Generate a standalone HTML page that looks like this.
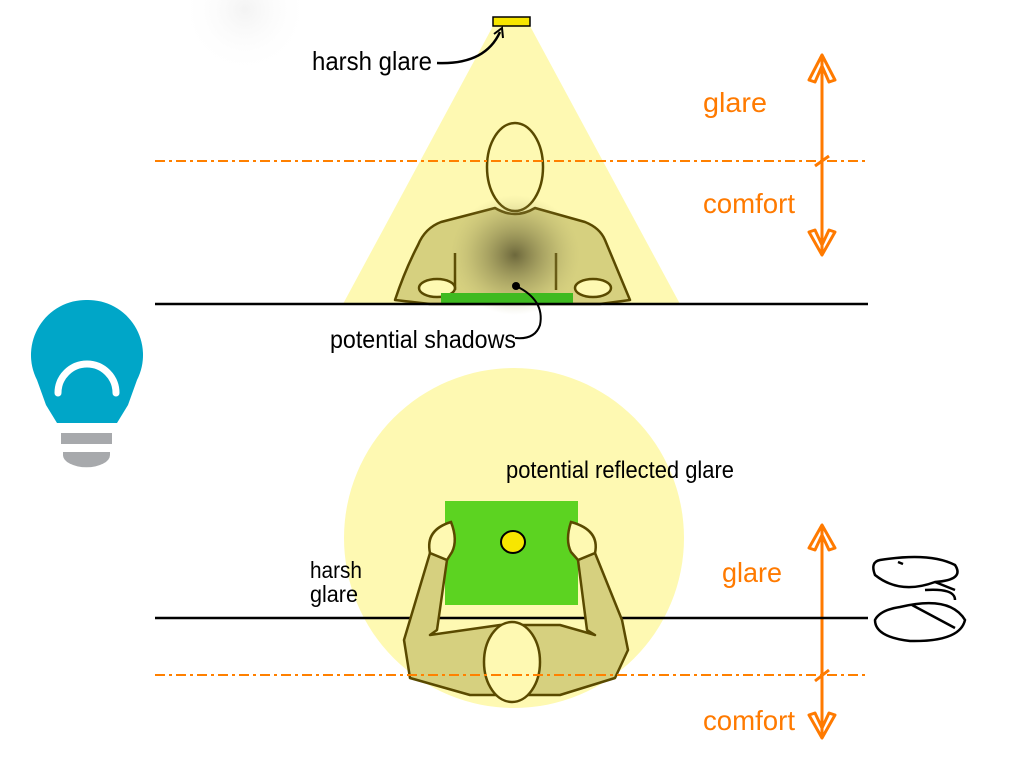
<!DOCTYPE html>
<html><head><meta charset="utf-8"><style>
html,body{margin:0;padding:0;background:#fff;width:1023px;height:767px;overflow:hidden}
svg{display:block}
text{font-family:"Liberation Sans",sans-serif}
</style></head><body>
<svg width="1023" height="767" viewBox="0 0 1023 767">
<defs>
<radialGradient id="sh" cx="0.5" cy="0.5" r="0.5">
<stop offset="0" stop-color="#5a5530" stop-opacity="0.85"/>
<stop offset="0.6" stop-color="#8a8550" stop-opacity="0.35"/>
<stop offset="1" stop-color="#b5b070" stop-opacity="0"/>
</radialGradient>
<radialGradient id="g0" cx="0.5" cy="0.5" r="0.5">
<stop offset="0" stop-color="#e8e8e8" stop-opacity="0.5"/>
<stop offset="1" stop-color="#fff" stop-opacity="0"/>
</radialGradient>
</defs>
<circle cx="245" cy="10" r="65" fill="url(#g0)"/>
<!-- top cone -->
<polygon points="493,26 530,26 680,304 343,304" fill="#fef9b2"/>
<rect x="493" y="17" width="37" height="9" fill="#f7e600" stroke="#000" stroke-width="1.5"/>
<!-- top person -->
<path d="M441,222 L495,208 Q515,220 535,208 L585,222 Q600,228 605,240 L630,300 L600,304 L430,304 L395,300 Q405,270 418,245 Q425,228 441,222Z" fill="#d6d07f" stroke="#5a4a00" stroke-width="2.5" stroke-linejoin="round"/>
<ellipse cx="515" cy="167" rx="28" ry="44" fill="#fef9b2" stroke="#5a4a00" stroke-width="2.5"/>
<path d="M455,253 L455,290 M556,253 L556,290" stroke="#5a4a00" stroke-width="2.5"/>
<ellipse cx="437" cy="288" rx="18" ry="9" fill="#fef9b2" stroke="#5a4a00" stroke-width="2.5"/>
<ellipse cx="593" cy="288" rx="18" ry="9" fill="#fef9b2" stroke="#5a4a00" stroke-width="2.5"/>
<ellipse cx="515" cy="255" rx="65" ry="60" fill="url(#sh)"/>
<rect x="441" y="293" width="132" height="11" fill="#3fba20"/>
<circle cx="516" cy="286" r="4" fill="#000"/>
<path d="M516,286 Q545,300 540,325 Q535,340 515,338" fill="none" stroke="#000" stroke-width="2"/>
<line x1="155" y1="304" x2="868" y2="304" stroke="#000" stroke-width="2.5"/>
<line x1="155" y1="161" x2="868" y2="161" stroke="#ff8000" stroke-width="2" stroke-dasharray="10,4,3,4"/>
<!-- labels top -->
<text x="312" y="70" font-size="26" fill="#000" textLength="120" lengthAdjust="spacingAndGlyphs">harsh glare</text>
<path d="M437,63 Q485,65 500,32" fill="none" stroke="#000" stroke-width="2.5"/>
<path d="M494,34 L502,28 L503,38" fill="none" stroke="#000" stroke-width="2"/>
<text x="330" y="348" font-size="25" fill="#000" textLength="186" lengthAdjust="spacingAndGlyphs">potential shadows</text>
<!-- orange arrows -->
<g stroke="#ff7a00" stroke-width="3" fill="none" stroke-linejoin="round">
<line x1="822" y1="55" x2="822" y2="255"/>
<path d="M822,55 L809,80 L815,82 L822,66 L829,82 L835,80Z"/>
<path d="M822,255 L809,232 L815,230 L822,245 L829,230 L835,232Z"/>
<line x1="815" y1="166" x2="829" y2="156"/>
<line x1="822" y1="525" x2="822" y2="738"/>
<path d="M822,525 L809,548 L815,550 L822,535 L829,550 L835,548Z"/>
<path d="M822,738 L809,715 L815,713 L822,728 L829,713 L835,715Z"/>
<line x1="815" y1="681" x2="829" y2="670"/>
</g>
<text x="703" y="112" font-size="28" fill="#ff7a00" textLength="64" lengthAdjust="spacingAndGlyphs">glare</text>
<text x="703" y="213" font-size="28" fill="#ff7a00" textLength="92" lengthAdjust="spacingAndGlyphs">comfort</text>
<text x="722" y="582" font-size="28" fill="#ff7a00" textLength="60" lengthAdjust="spacingAndGlyphs">glare</text>
<text x="703" y="730" font-size="28" fill="#ff7a00" textLength="92" lengthAdjust="spacingAndGlyphs">comfort</text>
<!-- bulb -->
<path d="M87,300 A55,55 0 0 1 137,380 L128,405 L117,423 L57,423 L46,405 L37,380 A55,55 0 0 1 87,300Z" fill="#00a6c8"/>
<path d="M58,393 A29,29 0 0 1 116,393" fill="none" stroke="#fff" stroke-width="7" stroke-linecap="round"/>
<rect x="61" y="433" width="51" height="11" fill="#a7a9ac"/>
<path d="M63,452 L110,452 L110,455 A23,12 0 0 1 63,455Z" fill="#a7a9ac"/>
<!-- bottom scene -->
<circle cx="514" cy="538" r="170" fill="#fef9b2"/>
<rect x="445" y="501" width="133" height="104" fill="#5cd321"/>
<ellipse cx="513" cy="542" rx="12" ry="11" fill="#f7e600" stroke="#000" stroke-width="2"/>
<line x1="155" y1="618" x2="868" y2="618" stroke="#000" stroke-width="2.5"/>
<path d="M430,553 L447,560 L437,630 L430,635 L500,625 L560,625 L595,635 L587,630 L578,560 L595,553 L622,620 L628,650 L615,678 L560,695 L470,695 L410,678 L404,640 Z" fill="#d6d07f" stroke="#5a4a00" stroke-width="2.5" stroke-linejoin="round"/>
<path d="M430,553 Q425,530 451,522 Q458,540 452,552 L447,560Z" fill="#fef9b2" stroke="#5a4a00" stroke-width="2.5"/>
<path d="M595,553 Q600,530 571,522 Q565,540 571,552 L578,560Z" fill="#fef9b2" stroke="#5a4a00" stroke-width="2.5"/>
<ellipse cx="512" cy="662" rx="28" ry="40" fill="#fef9b2" stroke="#5a4a00" stroke-width="2.5"/>
<line x1="155" y1="675" x2="868" y2="675" stroke="#ff8000" stroke-width="2" stroke-dasharray="10,4,3,4"/>
<text x="506" y="478" font-size="24" fill="#000" textLength="228" lengthAdjust="spacingAndGlyphs">potential reflected glare</text>
<text x="310" y="578" font-size="23" fill="#000" textLength="52" lengthAdjust="spacingAndGlyphs">harsh</text>
<text x="310" y="602" font-size="23" fill="#000" textLength="48" lengthAdjust="spacingAndGlyphs">glare</text>
<!-- squiggle -->
<g fill="none" stroke="#000" stroke-width="2.5">
<path d="M880,560 Q930,552 955,565 Q965,580 935,582 Q900,595 875,575 Q870,562 880,560Z"/>
<path d="M900,607 Q950,595 965,620 Q960,642 910,641 Q875,637 875,620 Q880,610 900,607Z"/>
<path d="M935,582 L955,590 M912,605 L955,628 M925,590 Q955,588 955,600"/>
<path d="M898,562 L903,564"/>
</g>
</svg>
</body></html>
